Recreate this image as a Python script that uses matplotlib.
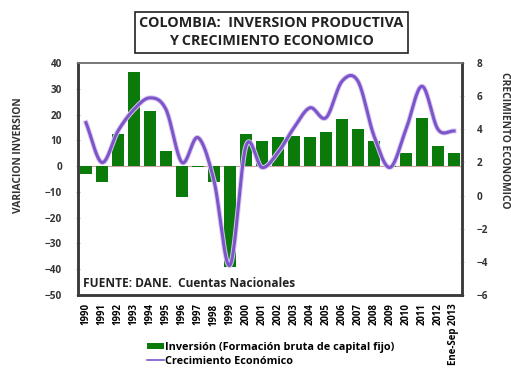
import matplotlib
matplotlib.use("Agg")
import matplotlib.pyplot as plt
import matplotlib.patheffects as pe
from matplotlib.lines import Line2D
import numpy as np

plt.rcParams["font.family"] = ["Open Sans", "DejaVu Sans"]

years = [str(y) for y in range(1990, 2013)] + ["Ene-Sep 2013"]
inversion = [-3, -6, 12.4, 36.4, 21.3, 5.8, -12, -0.5, -6, -39,
             12.4, 9.7, 11.2, 11.6, 11.2, 13.2, 18.2, 14.3, 9.7, -0.5,
             5.0, 18.6, 7.8, 5.0]
crecimiento = [4.4, 2.0, 3.9, 5.2, 5.9, 5.2, 2.0, 3.5, 0.9, -4.2,
               3.0, 1.7, 2.6, 4.1, 5.3, 4.7, 6.9, 6.9, 3.6, 1.7,
               4.0, 6.6, 4.0, 3.9]

GREEN = "#0a7a0a"
PURPLE = "#7b55c9"


def smooth(x, y, n=20):
    # Catmull-Rom curve through every point, like a spreadsheet "smoothed line"
    x = np.asarray(x, float)
    y = np.asarray(y, float)
    px = np.concatenate([[2 * x[0] - x[1]], x, [2 * x[-1] - x[-2]]])
    py = np.concatenate([[2 * y[0] - y[1]], y, [2 * y[-1] - y[-2]]])
    t = np.linspace(0, 1, n, endpoint=False)
    xs, ys = [], []
    for i in range(1, len(px) - 2):
        for p, out in ((px, xs), (py, ys)):
            p0, p1, p2, p3 = p[i - 1], p[i], p[i + 1], p[i + 2]
            out.extend(0.5 * (2 * p1 + (-p0 + p2) * t
                              + (2 * p0 - 5 * p1 + 4 * p2 - p3) * t ** 2
                              + (-p0 + 3 * p1 - 3 * p2 + p3) * t ** 3))
    xs.append(x[-1])
    ys.append(y[-1])
    return np.array(xs), np.array(ys)


fig = plt.figure(figsize=(5.11, 3.73), dpi=100)
ax = fig.add_axes([0.1526, 0.209, 0.7515, 0.622])
ax2 = ax.twinx()

idx = np.arange(len(years))
bars = ax.bar(idx, inversion, width=0.74, color=GREEN, zorder=2)
ax.axhline(0, color="#c9a0a0", lw=0.8, zorder=1)

ax.set_xlim(-0.5, len(years) - 0.5)
ax.set_ylim(-50, 40)
ax.set_yticks(range(-50, 41, 10))
ax.set_xticks(idx)
ax.set_xticklabels(years, rotation=90, fontsize=6.9, fontweight="bold")
ax.tick_params(axis="x", length=0, pad=6)
ax.tick_params(axis="y", labelsize=7.2, direction="inout", length=3,
               width=0.6, color="#999999", pad=10)
for lbl in ax.get_yticklabels():
    lbl.set_fontweight("bold")
    lbl.set_color("#333333")

sx, sy = smooth(idx, crecimiento)
ax2.plot(sx, sy, color=PURPLE, lw=2.2, zorder=3,
         path_effects=[pe.Stroke(linewidth=3.6, foreground="#d9c6f0"),
                       pe.Normal()])
ax2.set_ylim(-6, 8)
ax2.set_yticks(range(-6, 9, 2))
ax2.tick_params(axis="y", labelsize=7.2, direction="inout", length=3,
                width=0.6, color="#999999", pad=9)
for lbl in ax2.get_yticklabels():
    lbl.set_fontweight("bold")
    lbl.set_color("#333333")

for a in (ax, ax2):
    for side in ("left", "right", "bottom"):
        a.spines[side].set_linewidth(1.8)
        a.spines[side].set_color("#3a3a3a")
    a.spines["top"].set_linewidth(1.2)
    a.spines["top"].set_color("#777777")

ax.text(0.012, 0.035, "FUENTE: DANE.  Cuentas Nacionales", transform=ax.transAxes,
        fontsize=8.6, fontweight="bold", color="#222222")

fig.text(0.036, 0.584, "VARIACION INVERSION", rotation=90, ha="center",
         va="center", fontsize=7.4, fontweight="bold", color="#333333")
fig.text(0.988, 0.625, "CRECIMIENTO ECONOMICO", rotation=270, ha="center",
         va="center", fontsize=7.4, fontweight="bold", color="#333333")

fig.text(0.531, 0.914, "COLOMBIA:  INVERSION PRODUCTIVA\nY CRECIMIENTO ECONOMICO",
         ha="center", va="center", fontsize=10.4, fontweight="bold",
         linespacing=1.4, color="#222222",
         bbox=dict(boxstyle="square,pad=0.3", fc="white", ec="#222222", lw=1.2))

legend_line = Line2D([], [], color=PURPLE, lw=1.2)
fig.legend(handles=[bars, legend_line],
           labels=["Inversión (Formación bruta de capital fijo)", "Crecimiento Económico"],
           loc="lower left", bbox_to_anchor=(0.268, -0.01), frameon=False,
           prop={"weight": "bold", "size": 7.8}, handlelength=1.6,
           handleheight=0.55, handletextpad=0.1, labelspacing=0.3)

fig.savefig("out.png", dpi=100)
